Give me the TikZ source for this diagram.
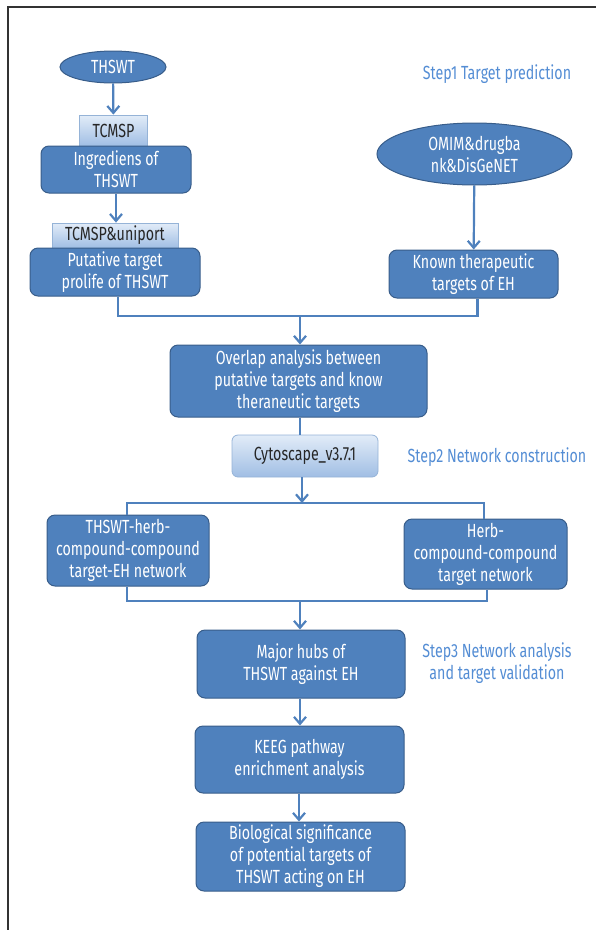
\documentclass[tikz,border=0pt]{standalone}
\usepackage{fontspec}
\setmainfont[FakeStretch=0.75]{Fira Sans}
\usetikzlibrary{arrows.meta,shapes.geometric}

\definecolor{boxblue}{RGB}{79,129,189}
\definecolor{boxline}{RGB}{56,93,138}
\definecolor{steptext}{RGB}{84,141,212}
\definecolor{lighttop}{RGB}{226,236,248}
\definecolor{lightbot}{RGB}{160,190,228}
\definecolor{lightline}{RGB}{149,179,215}

\begin{document}
\begin{tikzpicture}[
  x=1pt, y=-1pt,
  every node/.style={font=\fontsize{19}{22}\selectfont, inner sep=0pt, align=center},
  % blockbox/.style={draw=boxline,fill=boxblue!80,rounded corners=8pt},
  blockbox/.style={draw=boxline, fill=boxblue, text=white, rounded corners=8pt, line width=1pt},
  ovalbox/.style={ellipse, draw=boxline, fill=boxblue, text=white, line width=1pt},
  toolbox/.style={draw=lightline, top color=lighttop, bottom color=lightbot, text=black!85, line width=0.8pt},
  steplabel/.style={text=steptext},
  link/.style={draw=boxblue, line width=2.2pt},
  arrow/.style={link, -{Straight Barb[length=7pt,width=12pt]}},
  ]
  \useasboundingbox (0,0) rectangle (596,930);
  \draw[line width=1.2pt, black!80] (596,7) -- (8,7) -- (8,930);

  % step 1
  \node[ovalbox, minimum width=106, minimum height=32] (thswt) at (113,67) {THSWT};
  \node[toolbox, minimum width=68, minimum height=31] (tcmsp) at (113.5,130.5) {TCMSP};
  \node[blockbox, minimum width=150, minimum height=47] (ingr) at (116,169.5) {Ingrediens of\\THSWT};
  \node[toolbox, minimum width=126, minimum height=25] (tcmspu) at (115,235.5) {TCMSP\&uniport};
  \node[blockbox, minimum width=170, minimum height=48] (putative) at (115,272) {Putative target\\prolife of THSWT};
  \node[ovalbox, minimum width=195, minimum height=62] (omim) at (474.5,154) {OMIM\&drugba\\nk\&DisGeNET};
  \node[blockbox, minimum width=169, minimum height=48] (known) at (473.5,274) {Known therapeutic\\targets of EH};
  \node[steplabel] (step1) at (497,74) {Step1 Target prediction};

  \draw[arrow] (thswt) -- (tcmsp);
  \draw[arrow] (ingr.south) -- (ingr.south |- tcmspu.north);
  \draw[arrow] (omim) -- (known);

  % step 2
  \node[blockbox, minimum width=257, minimum height=72] (overlap) at (298.5,381) {Overlap analysis between\\putative targets and know\\theraneutic targets};
  \node[toolbox, rounded corners=6pt, minimum width=146, minimum height=42] (cyto) at (305,456) {Cytoscape\_v3.7.1};
  \node[steplabel] (step2) at (497,457) {Step2 Network construction};
  \node[blockbox, minimum width=162, minimum height=71] (herba) at (128,550.5) {THSWT-herb-\\compound-compound\\target-EH network};
  \node[blockbox, minimum width=163, minimum height=70] (herbb) at (485.5,554) {Herb-\\compound-compound\\target network};

  \coordinate (join1) at (300,316);
  \draw[link] ([xshift=3]putative.south) |- (join1) -| ([xshift=4]known.south);
  \draw[arrow] (join1) -- (join1 |- overlap.north);
  \draw[link] (overlap.south -| 300,0) -- (cyto.north -| 300,0);
  \coordinate (split) at (302,503);
  \draw[arrow] (cyto.south -| split) -- (split);
  \draw[link] (herba.north -| 127,0) |- (split) -| (herbb.north -| 484,0);

  % step 3
  \node[blockbox, minimum width=208, minimum height=68] (major) at (301,664) {Major hubs of\\THSWT against EH};
  \node[blockbox, minimum width=209, minimum height=67] (keeg) at (299.5,759.5) {KEEG pathway\\enrichment analysis};
  \node[blockbox, minimum width=209, minimum height=69] (bio) at (300.5,856.5) {Biological significance\\of potential targets of\\THSWT acting on EH};
  \node[steplabel] (step3) at (497,663) {Step3 Network analysis\\and target validation};

  \coordinate (join2) at (300,601);
  \draw[link] (herba.south -| 127,0) |- (join2) -| (herbb.south -| 487,0);
  \draw[arrow] (join2) -- (join2 |- major.north);
  \draw[arrow] (major.south -| 300,0) -- (keeg.north -| 300,0);
  \draw[arrow] (keeg.south -| 299,0) -- (bio.north -| 299,0);
\end{tikzpicture}
\end{document}
